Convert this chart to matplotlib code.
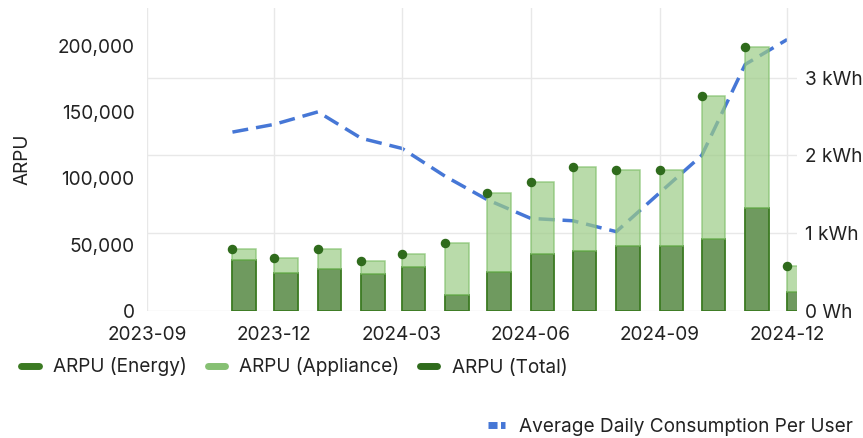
import matplotlib
matplotlib.use("Agg")
import matplotlib.pyplot as plt
import matplotlib.dates as mdates
from matplotlib.lines import Line2D
from matplotlib.ticker import FuncFormatter
import numpy as np
import datetime as dt

# monthly data
months = ["2023-11", "2023-12", "2024-01", "2024-02", "2024-03", "2024-04", "2024-05",
          "2024-06", "2024-07", "2024-08", "2024-09", "2024-10", "2024-11", "2024-12"]
arpu_energy = [38600, 28500, 31500, 28000, 33300, 12400, 29700,
               43100, 45200, 48700, 48700, 54200, 77700, 14600]
arpu_total = [47000, 40000, 47000, 38000, 43100, 51000, 89000,
              97400, 108700, 106700, 106700, 162100, 199200, 34300]
consumption_kwh = [2.30, 2.40, 2.56, 2.22, 2.09, 1.73, 1.43,
                   1.19, 1.16, 1.02, 1.52, 2.00, 3.17, 3.49]

arpu_appliance = [t - e for t, e in zip(arpu_total, arpu_energy)]
dates = [dt.datetime.strptime(m, "%Y-%m") for m in months]

plt.rcParams["font.family"] = ["Inter", "DejaVu Sans"]
fs = 13.7
plt.rcParams["font.size"] = fs
text_col = "#222222"

fig = plt.figure(figsize=(8.63, 4.38), dpi=100)
ax = fig.add_axes([147/863, 1-311/438, (797-147)/863, (311-8)/438])
ax2 = ax.twinx()
ax.set_zorder(ax2.get_zorder() + 1)
ax.patch.set_visible(False)

bar_w = 16.8
ax.bar(dates, arpu_energy, width=bar_w, align="edge", color="#6f9a5f",
       edgecolor="#3b7a22", linewidth=1.3, zorder=3)
ax.bar(dates, arpu_appliance, bottom=arpu_energy, width=bar_w, align="edge",
       color="#9ccc86", alpha=0.7, edgecolor="#7fbf68", linewidth=1.1, zorder=3)
ax.scatter(dates, arpu_total, s=34, color="#2f6b1c", zorder=4)

ax2.plot(dates, consumption_kwh, color="#4677d6", linewidth=2.5,
         dashes=(4.6, 2.3), zorder=2)

x0 = dt.datetime(2023, 9, 1)
x1 = dt.datetime(2024, 12, 8)
ax.set_xlim(x0, x1)
ax.set_ylim(0, 228500)
ax2.set_ylim(0, 3.895)

ax.set_yticks([0, 50000, 100000, 150000, 200000])
ax.yaxis.set_major_formatter(FuncFormatter(lambda v, p: f"{int(v):,}"))
ax2.set_yticks([0, 1, 2, 3])
ax2.yaxis.set_major_formatter(FuncFormatter(lambda v, p: "0 Wh" if v == 0 else f"{v:g} kWh"))

ax.xaxis.set_major_locator(mdates.MonthLocator(bymonth=[3, 6, 9, 12]))
ax.xaxis.set_major_formatter(mdates.DateFormatter("%Y-%m"))

for a in (ax, ax2):
    for s in a.spines.values():
        s.set_visible(False)
    a.tick_params(length=0, colors=text_col, labelsize=fs)
ax.tick_params(axis="y", pad=9)
ax.tick_params(axis="x", pad=11)
ax2.tick_params(axis="y", pad=6)

ax2.grid(axis="y", color="#e8e8e8", linewidth=1)
ax.grid(axis="x", color="#e8e8e8", linewidth=1)
ax.grid(axis="y", visible=False)
ax.set_axisbelow(True)

ax.set_ylabel("ARPU", color=text_col, fontsize=fs, labelpad=19)

h1 = [Line2D([0], [0], color="#3b7a22", lw=5, solid_capstyle="round"),
      Line2D([0], [0], color="#86c073", lw=5, solid_capstyle="round"),
      Line2D([0], [0], color="#2f6b1c", lw=5, solid_capstyle="round")]
fig.legend(h1, ["ARPU (Energy)", "ARPU (Appliance)", "ARPU (Total)"],
           loc="center left", bbox_to_anchor=(0.005, 1-367/438), ncol=3,
           frameon=False, handlelength=0.9, handletextpad=0.75, columnspacing=1.1,
           fontsize=fs, labelcolor=text_col)
h2 = [Line2D([0], [0], color="#4677d6", lw=5, dashes=(1.3, 0.5))]
fig.legend(h2, ["Average Daily Consumption Per User"],
           loc="center right", bbox_to_anchor=(1.008, 1-427/438),
           frameon=False, handlelength=0.9, handletextpad=0.75,
           fontsize=fs, labelcolor=text_col)

fig.savefig("out.png", dpi=100)
